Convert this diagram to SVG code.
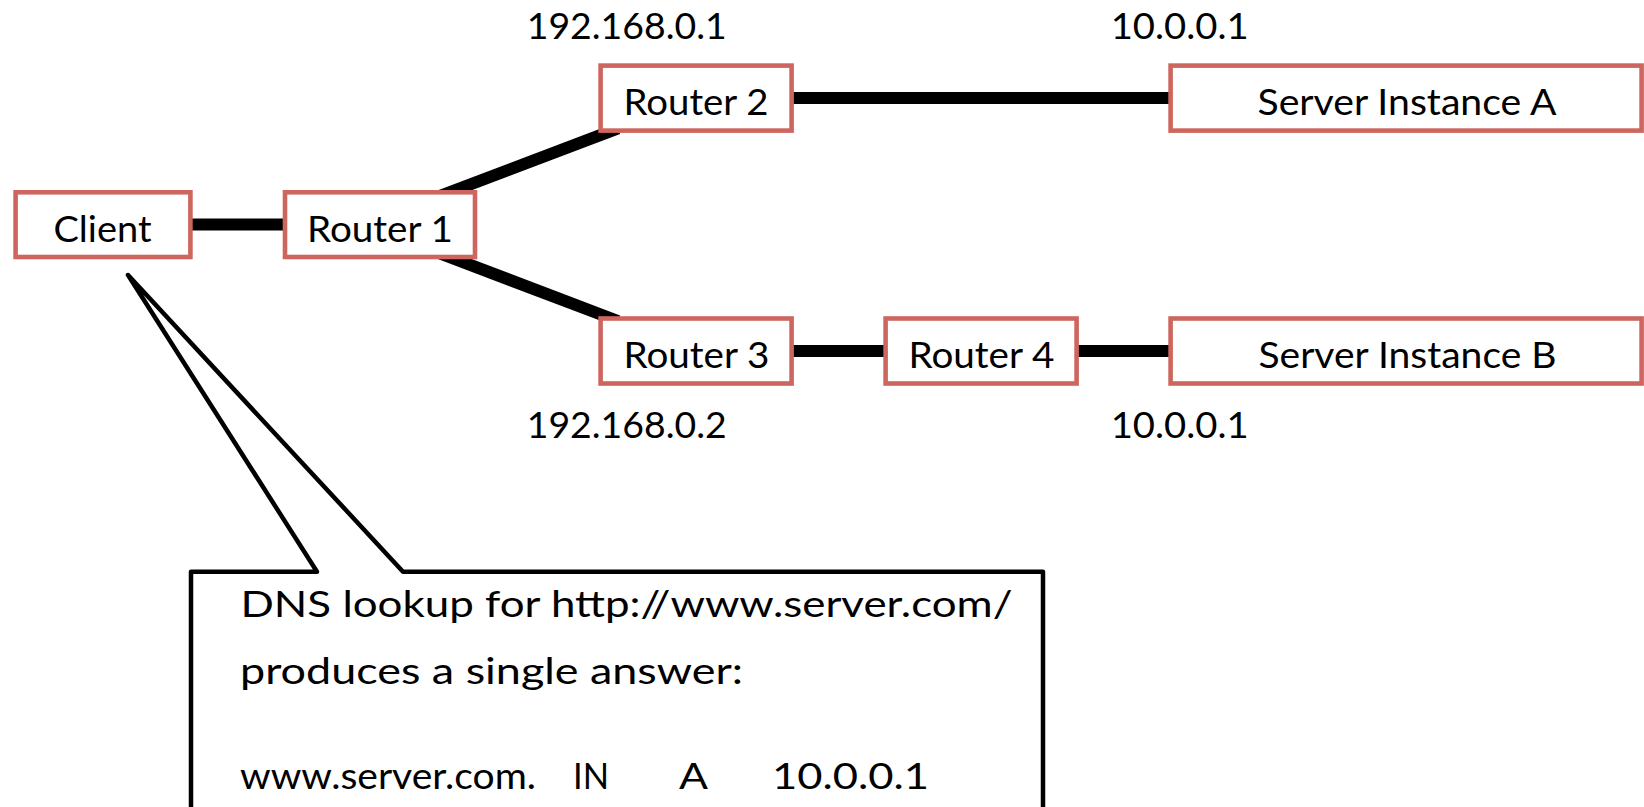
<svg xmlns="http://www.w3.org/2000/svg" width="1644" height="807" viewBox="0 0 1644 807">
  <style>
    .node { fill: #ffffff; stroke: #CE6660; stroke-width: 4.6; }
    .link { stroke: #000000; stroke-width: 12; fill: none; }
    .lbl { font-family: Lato, "Liberation Sans", sans-serif; font-size: 37.5px; fill: #000000; }
    .mid { text-anchor: middle; }
    .callout { fill: #ffffff; stroke: #000000; stroke-width: 4.5; stroke-linejoin: round; }
  </style>

  <!-- links between devices, drawn under the boxes -->
  <g id="connectors">
    <line class="link" x1="190" y1="224.6" x2="285" y2="224.6"/>
    <line class="link" x1="380" y1="218.7" x2="618" y2="128.3"/>
    <line class="link" x1="380" y1="230.6" x2="618" y2="321"/>
    <line class="link" x1="792" y1="98" x2="1171" y2="98"/>
    <line class="link" x1="792" y1="351" x2="886" y2="351"/>
    <line class="link" x1="1077" y1="351" x2="1171" y2="351"/>
  </g>

  <g id="client">
    <rect class="node" x="15.6" y="192.3" width="174.8" height="64.7"/>
    <text class="lbl mid" x="102.5" y="241.7" textLength="98" lengthAdjust="spacingAndGlyphs">Client</text>
  </g>

  <g id="router1">
    <rect class="node" x="285" y="192.3" width="190" height="64.7"/>
    <text class="lbl mid" x="380" y="241.7" textLength="146" lengthAdjust="spacingAndGlyphs">Router 1</text>
  </g>

  <g id="router2">
    <rect class="node" x="600.6" y="65.6" width="191" height="65"/>
    <text class="lbl mid" x="696" y="115" textLength="145" lengthAdjust="spacingAndGlyphs">Router 2</text>
  </g>

  <g id="router3">
    <rect class="node" x="600.6" y="318.5" width="191" height="65"/>
    <text class="lbl mid" x="696.5" y="368.3" textLength="146" lengthAdjust="spacingAndGlyphs">Router 3</text>
  </g>

  <g id="router4">
    <rect class="node" x="885.6" y="318.5" width="191" height="65"/>
    <text class="lbl mid" x="981.5" y="368.3" textLength="146" lengthAdjust="spacingAndGlyphs">Router 4</text>
  </g>

  <g id="server-a">
    <rect class="node" x="1170.6" y="65.6" width="471" height="65"/>
    <text class="lbl mid" x="1407" y="115" textLength="299" lengthAdjust="spacingAndGlyphs">Server Instance A</text>
  </g>

  <g id="server-b">
    <rect class="node" x="1170.6" y="318.5" width="471" height="65"/>
    <text class="lbl mid" x="1407.5" y="368.3" textLength="298" lengthAdjust="spacingAndGlyphs">Server Instance B</text>
  </g>

  <!-- address labels -->
  <g id="addresses">
    <text class="lbl mid" x="626.7" y="39.3" textLength="200" lengthAdjust="spacingAndGlyphs">192.168.0.1</text>
    <text class="lbl mid" x="1179.7" y="39.3" textLength="138" lengthAdjust="spacingAndGlyphs">10.0.0.1</text>
    <text class="lbl mid" x="626.7" y="437.7" textLength="200" lengthAdjust="spacingAndGlyphs">192.168.0.2</text>
    <text class="lbl mid" x="1179.7" y="437.7" textLength="138" lengthAdjust="spacingAndGlyphs">10.0.0.1</text>
  </g>

  <!-- speech-bubble note pointing at the client -->
  <g id="dns-note">
    <path class="callout" d="M 191 571.7 L 317 571.7 L 128 275 L 403 571.7 L 1043 571.7 L 1043 830 L 191 830 Z"/>
    <text class="lbl" x="240.5" y="616.7" textLength="772" lengthAdjust="spacingAndGlyphs">DNS lookup for http://www.server.com/</text>
    <text class="lbl" x="240" y="684" textLength="503" lengthAdjust="spacingAndGlyphs">produces a single answer:</text>
    <text class="lbl" x="240" y="789" textLength="296" lengthAdjust="spacingAndGlyphs">www.server.com.</text>
    <text class="lbl" x="573" y="789" textLength="36" lengthAdjust="spacingAndGlyphs">IN</text>
    <text class="lbl" x="679" y="789" textLength="29" lengthAdjust="spacingAndGlyphs">A</text>
    <text class="lbl" x="772" y="789" textLength="157" lengthAdjust="spacingAndGlyphs">10.0.0.1</text>
  </g>
</svg>
